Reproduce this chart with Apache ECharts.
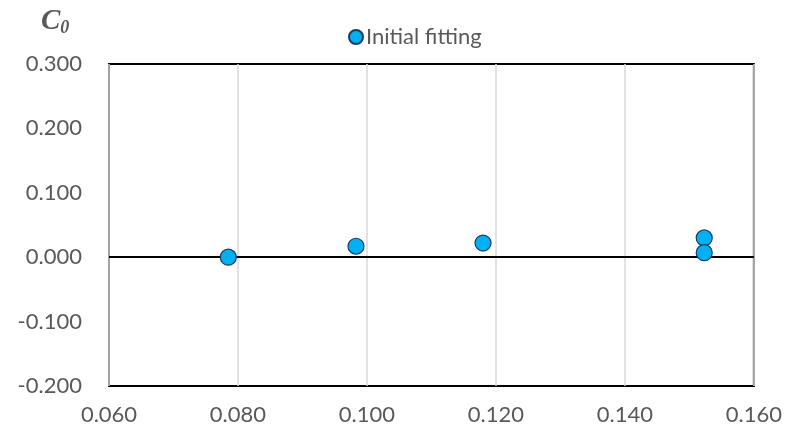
<!DOCTYPE html>
<html><head><meta charset="utf-8">
<script src="https://cdn.jsdelivr.net/npm/echarts@6/dist/echarts.min.js"></script>
<style>html,body{margin:0;padding:0;background:#fff}#c{width:785px;height:442px}</style>
</head><body><div id="c"></div>
<script>
const seriesName = 'Initial fitting';
const xValues = [0.0785, 0.0983, 0.1180, 0.1523, 0.1523];
const yValues = [0.000, 0.017, 0.022, 0.030, 0.007];
const xTicks = {min: 0.06, max: 0.16, interval: 0.02};
const yTicks = {min: -0.2, max: 0.3, interval: 0.1};

const chart = echarts.init(document.getElementById('c'));
const font = 'Lato';
chart.setOption({
  animation: false,
  title: {
    text: '{c|C}{s|0}', left: 36, top: 2,
    textStyle: { rich: {
      c: {fontFamily: 'Liberation Serif', fontWeight: 'bold', fontStyle: 'italic', fontSize: 29, color: '#595959'},
      s: {fontFamily: 'Liberation Serif', fontWeight: 'bold', fontStyle: 'italic', fontSize: 18, color: '#595959', verticalAlign: 'bottom', padding: [12,0,0,0]}
    }}
  },
  legend: {
    data: [seriesName], left: 343, top: 21, itemWidth: 14, itemHeight: 14, itemGap: 4,
    textStyle: {fontFamily: font, fontSize: 22, color: '#595959', padding: [0,0,0,-2]}
  },
  grid: {left: 109, right: 29, top: 64, bottom: 56, show: true, borderColor: '#000', borderWidth: 2, containLabel: false},
  xAxis: {
    type: 'value', min: xTicks.min, max: xTicks.max, interval: xTicks.interval,
    axisLine: {show: false, onZero: false}, axisTick: {show: false},
    splitLine: {show: true, lineStyle: {color: '#D9D9D9', width: 1.5}},
    axisLabel: {fontFamily: font, fontSize: 22, color: '#595959', margin: 18, formatter: v => v.toFixed(3)}
  },
  yAxis: {
    type: 'value', min: yTicks.min, max: yTicks.max, interval: yTicks.interval,
    axisLine: {show: false}, axisTick: {show: false},
    splitLine: {show: false},
    axisLabel: {fontFamily: font, fontSize: 22, color: '#595959', margin: 27, formatter: v => v.toFixed(3)}
  },
  series: [{
    name: seriesName, type: 'scatter', symbol: 'circle', symbolSize: 16,
    itemStyle: {color: '#00B0F0', borderColor: '#1F3864', borderWidth: 1.2, opacity: 1},
    data: xValues.map((x, i) => [x, yValues[i]]),
    markLine: {silent: true, symbol: 'none', label: {show: false}, lineStyle: {color: '#000', width: 2, type: 'solid'}, data: [{yAxis: 0}], z: 1},
    z: 5
  }]
});
</script></body></html>
